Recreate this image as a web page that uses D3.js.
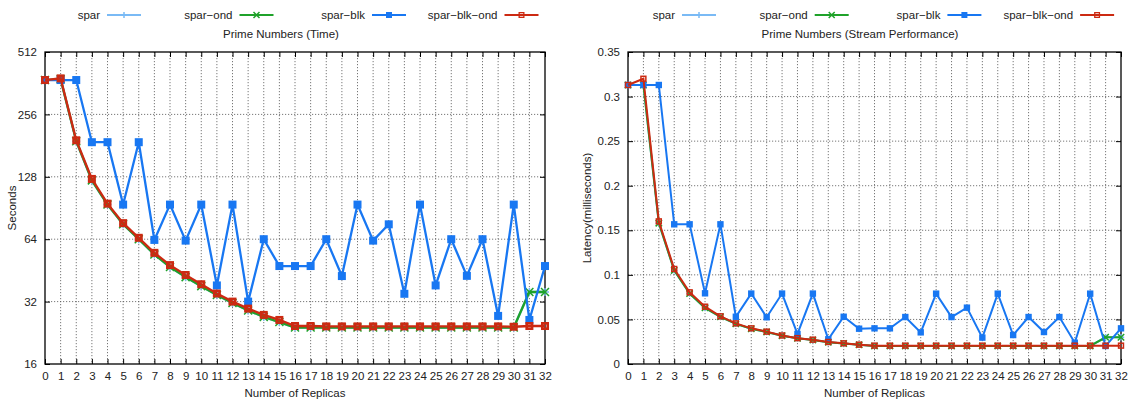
<!DOCTYPE html>
<html>
<head>
<meta charset="utf-8">
<script src="https://cdnjs.cloudflare.com/ajax/libs/d3/7.8.5/d3.min.js"></script>
<style>
body { margin:0; background:#fff; }
svg text { font-family: "Liberation Sans", Arial, sans-serif; font-size:11.5px; fill:#222; }
</style>
</head>
<body>
<svg id="chart" width="1132" height="403"></svg>
<script>
// DATA
var replicas = [0,1,2,3,4,5,6,7,8,9,10,11,12,13,14,15,16,17,18,19,20,21,22,23,24,25,26,27,28,29,30,31,32];
var seriesNames = ['spar', 'spar\u2212ond', 'spar\u2212blk', 'spar\u2212blk\u2212ond'];

// seconds
var timeSpar =       [375,378,190,123,94,75.5,64,54,47,42,38,34.4,31.5,29,27,25.5,24,24,24,24,24,24,24,24,24,24,24,24,24,24,24,35.6,35.6];
var timeSparOnd =    [375,378,190,123,94,75.5,64,54,47,42,38,34.4,31.5,29,27,25.5,24,24,24,24,24,24,24,24,24,24,24,24,24,24,24,35.6,35.6];
var timeSparBlk =    [375,375,375,188,188,94,188,63.5,94,63,94,38.3,94,32,64,47.5,47.5,47.5,64,42.5,94,63,75.5,34.9,94,38.3,64,42.6,64,27.3,94,26.1,47.5];
var timeSparBlkOnd = [375,382,192,125,95,76.5,65,55,48,43,38.8,35,32,29.6,27.6,26.1,24.4,24.4,24.3,24.3,24.3,24.3,24.3,24.3,24.3,24.3,24.3,24.3,24.3,24.3,24.2,24.4,24.4];

// milliseconds
var latSpar =       [0.313,0.313,0.158,0.105,0.079,0.063,0.053,0.045,0.0395,0.036,0.0318,0.0288,0.027,0.0245,0.023,0.0215,0.0203,0.0203,0.0203,0.0203,0.0203,0.0203,0.0203,0.0203,0.0203,0.0203,0.0203,0.0203,0.0203,0.0203,0.0203,0.030,0.030];
var latSparOnd =    [0.313,0.313,0.158,0.105,0.079,0.063,0.053,0.045,0.0395,0.036,0.0318,0.0288,0.027,0.0245,0.023,0.0215,0.0203,0.0203,0.0203,0.0203,0.0203,0.0203,0.0203,0.0203,0.0203,0.0203,0.0203,0.0203,0.0203,0.0203,0.0203,0.030,0.030];
var latSparBlk =    [0.313,0.313,0.313,0.1567,0.1567,0.0793,0.1567,0.053,0.079,0.0524,0.079,0.0337,0.079,0.0277,0.053,0.0396,0.040,0.040,0.0527,0.0355,0.0789,0.0527,0.0632,0.0296,0.0789,0.0325,0.0527,0.0359,0.0527,0.0239,0.0789,0.0202,0.040];
var latSparBlkOnd = [0.313,0.320,0.160,0.1066,0.0804,0.0643,0.0535,0.0456,0.040,0.0363,0.032,0.029,0.0273,0.0247,0.0232,0.0217,0.0206,0.0206,0.0206,0.0206,0.0206,0.0206,0.0206,0.0206,0.0206,0.0206,0.0206,0.0206,0.0206,0.0206,0.0206,0.0206,0.0206];

var timeTicks = [16,32,64,128,256,512];
var latTicks = [0,0.05,0.1,0.15,0.2,0.25,0.3,0.35];
var latTickLabels = ['0','0.05','0.1','0.15','0.2','0.25','0.3','0.35'];

// STYLE
var colors = ['#7abaf5', '#1fa22a', '#1877f2', '#cc2a12'];
var markers = ['plus', 'cross', 'fsquare', 'osquare'];

var svg = d3.select('#chart');

function drawMarker(g, type, x, y, s, col, sw) {
	if (type == 'plus') {
		g.append('path').attr('d', 'M' + (x - s) + ',' + y + 'H' + (x + s) + 'M' + x + ',' + (y - s) + 'V' + (y + s))
			.attr('stroke', col).attr('stroke-width', 1.5).attr('fill', 'none');
	} else if (type == 'cross') {
		g.append('path').attr('d', 'M' + (x - s) + ',' + (y - s) + 'L' + (x + s) + ',' + (y + s) + 'M' + (x - s) + ',' + (y + s) + 'L' + (x + s) + ',' + (y - s))
			.attr('stroke', col).attr('stroke-width', 1.5).attr('fill', 'none');
	} else if (type == 'fsquare') {
		g.append('rect').attr('x', x - s).attr('y', y - s).attr('width', 2 * s).attr('height', 2 * s)
			.attr('fill', col);
	} else {
		g.append('rect').attr('x', x - s + sw / 2).attr('y', y - s + sw / 2).attr('width', 2 * s - sw).attr('height', 2 * s - sw)
			.attr('fill', 'none').attr('stroke', col).attr('stroke-width', sw);
	}
}

function drawPanel(p) {
	var g = svg.append('g');
	var x = d3.scaleLinear().domain([0, 32]).range([p.left, p.right]);
	var y = p.y;

	// grid
	replicas.slice(1, -1).forEach(function(r) {
		g.append('line').attr('x1', x(r)).attr('x2', x(r)).attr('y1', p.top).attr('y2', p.bottom)
			.attr('stroke', '#555').attr('stroke-width', 0.8).attr('stroke-dasharray', '1.2,1.8');
	});
	p.ticks.slice(1, -1).forEach(function(t) {
		g.append('line').attr('x1', p.left).attr('x2', p.right).attr('y1', y(t)).attr('y2', y(t))
			.attr('stroke', '#555').attr('stroke-width', 0.8).attr('stroke-dasharray', '1.2,1.8');
	});

	// axes
	var xb = d3.axisBottom(x).tickValues(replicas).tickSize(-5).tickPadding(8).tickFormat(d3.format('d'));
	var xt = d3.axisTop(x).tickValues(replicas).tickSize(-5).tickFormat('');
	var yl = d3.axisLeft(y).tickValues(p.ticks).tickSize(-5).tickPadding(8).tickFormat(function(d, i) { return p.labels[i]; });
	var yr = d3.axisRight(y).tickValues(p.ticks).tickSize(-5).tickFormat('');
	[[xb, 'translate(0,' + p.bottom + ')'], [xt, 'translate(0,' + p.top + ')'],
	 [yl, 'translate(' + p.left + ',0)'], [yr, 'translate(' + p.right + ',0)']].forEach(function(a) {
		var ax = g.append('g').attr('transform', a[1]).call(a[0]);
		ax.select('.domain').remove();
		ax.selectAll('line').attr('stroke', '#000');
		ax.selectAll('text').attr('font-size', '12px').attr('font-family', '"Liberation Sans", Arial, sans-serif').attr('fill', '#222');
	});
	g.append('rect').attr('x', p.left).attr('y', p.top).attr('width', p.right - p.left).attr('height', p.bottom - p.top)
		.attr('fill', 'none').attr('stroke', '#000').attr('stroke-width', 1.3);

	// series
	var line = d3.line().x(function(d, i) { return x(replicas[i]); }).y(function(d) { return y(d); });
	p.series.forEach(function(s, k) {
		g.append('path').datum(s).attr('d', line).attr('fill', 'none')
			.attr('stroke', colors[k]).attr('stroke-width', p.lw);
		s.forEach(function(v, i) { drawMarker(g, markers[k], x(replicas[i]), y(v), p.ms, colors[k], p.sw); });
	});

	// legend
	seriesNames.forEach(function(n, k) {
		var lx = p.legendX + k * p.legendStep;
		g.append('text').attr('x', lx).attr('y', 19).attr('text-anchor', 'end').text(n);
		g.append('line').attr('x1', lx + 7).attr('x2', lx + 41).attr('y1', 15).attr('y2', 15)
			.attr('stroke', colors[k]).attr('stroke-width', 2);
		drawMarker(g, markers[k], lx + 24, 15, 3, colors[k], 1.3);
	});

	g.append('text').attr('x', p.titleX).attr('y', 38).attr('text-anchor', 'middle').text(p.title);
	g.append('text').attr('x', (p.left + p.right) / 2).attr('y', 397).attr('text-anchor', 'middle').text('Number of Replicas');
	g.append('text').attr('transform', 'translate(' + p.ylabX + ',' + (p.top + p.bottom) / 2 + ') rotate(-90)')
		.attr('text-anchor', 'middle').text(p.ylab);
}

drawPanel({
	left: 45, right: 545, top: 52, bottom: 364,
	y: d3.scaleLog().base(2).domain([16, 512]).range([364, 52]),
	ticks: timeTicks, labels: timeTicks.map(String),
	series: [timeSpar, timeSparOnd, timeSparBlk, timeSparBlkOnd],
	ms: 4, sw: 2.6, lw: 2.3, legendX: 100, legendStep: 132.5,
	title: 'Prime Numbers (Time)', titleX: 281, ylab: 'Seconds', ylabX: 16
});

drawPanel({
	left: 628, right: 1121, top: 52, bottom: 364,
	y: d3.scaleLinear().domain([0, 0.35]).range([364, 52]),
	ticks: latTicks, labels: latTickLabels,
	series: [latSpar, latSparOnd, latSparBlk, latSparBlkOnd],
	ms: 3.2, sw: 1.5, lw: 2, legendX: 675, legendStep: 132.7,
	title: 'Prime Numbers (Stream Performance)', titleX: 860, ylab: 'Latency(milliseconds)', ylabX: 591
});
</script>
</body>
</html>
